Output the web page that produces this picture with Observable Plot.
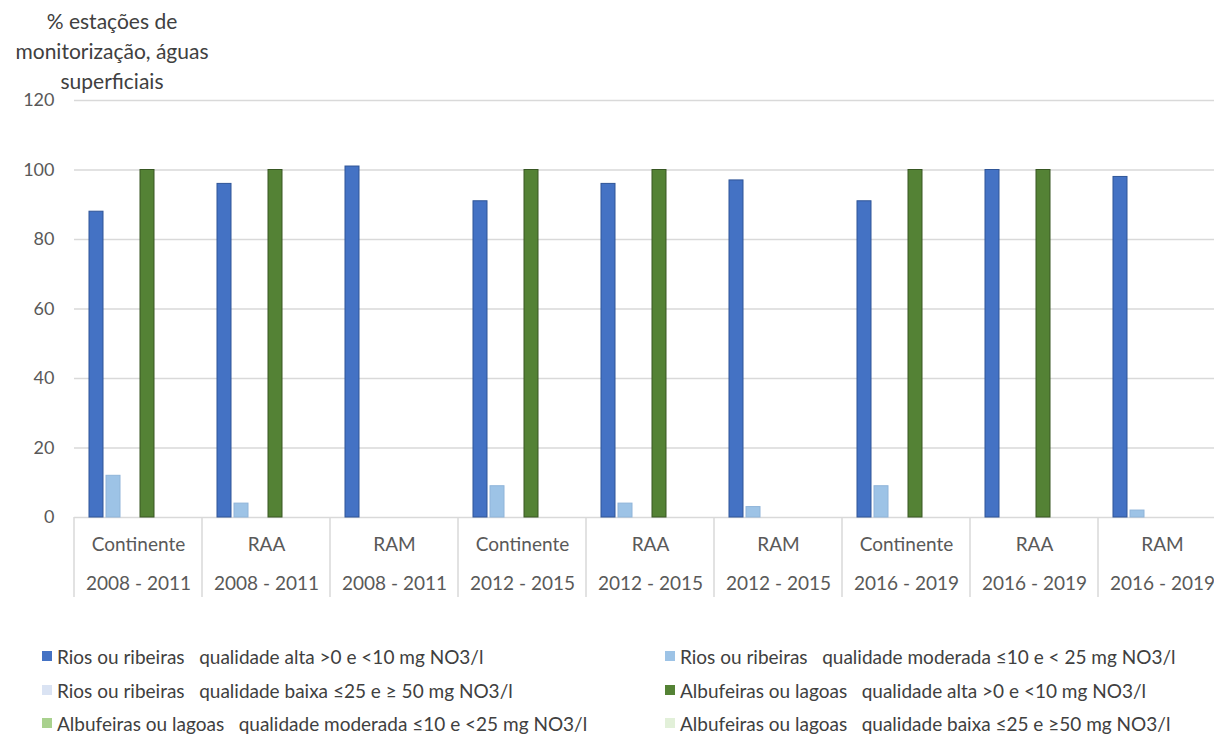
<!DOCTYPE html>
<html>
<head>
<meta charset="utf-8">
<script src="https://cdn.jsdelivr.net/npm/d3@7"></script>
<script src="https://cdn.jsdelivr.net/npm/@observablehq/plot@0.6"></script>
<style>
  html, body { margin: 0; padding: 0; background: #fff; }
  body { width: 1214px; height: 734px; overflow: hidden; font-family: Lato, "Open Sans", sans-serif; }
  #title { width: 224px; height: 80px; padding-top: 6px; box-sizing: border-box; text-align: center; font-size: 21px; line-height: 30px; color: #404040; }
  #chart { width: 1214px; height: 520px; overflow: hidden; }
  #chart svg { max-width: none !important; display: block; }
  #legend { position: relative; height: 134px; font-size: 19px; color: #404040; }
  .item { position: absolute; white-space: pre; display: flex; align-items: center; height: 24px; }
  .sw { width: 10px; height: 10px; margin-right: 5px; flex: none; }
</style>
</head>
<body>
<div id="title">% estações de<br>monitorização, águas<br>superficiais</div>
<div id="chart"></div>
<div id="legend"></div>
<script>
const regions = ["Continente", "RAA", "RAM", "Continente", "RAA", "RAM", "Continente", "RAA", "RAM"];
const periods = ["2008 - 2011", "2008 - 2011", "2008 - 2011", "2012 - 2015", "2012 - 2015", "2012 - 2015", "2016 - 2019", "2016 - 2019", "2016 - 2019"];
const seriesNames = [
  "Rios ou ribeiras   qualidade alta >0 e <10 mg NO3/l",
  "Rios ou ribeiras   qualidade moderada ≤10 e < 25 mg NO3/l",
  "Rios ou ribeiras   qualidade baixa ≤25 e ≥ 50 mg NO3/l",
  "Albufeiras ou lagoas   qualidade alta >0 e <10 mg NO3/l",
  "Albufeiras ou lagoas   qualidade moderada ≤10 e <25 mg NO3/l",
  "Albufeiras ou lagoas   qualidade baixa ≤25 e ≥50 mg NO3/l"
];
const riosAlta      = [88, 96, 101, 91, 96, 97, 91, 100, 98];
const riosModerada  = [12, 4, 0, 9, 4, 3, 9, 0, 2];
const riosBaixa     = [0, 0, 0, 0, 0, 0, 0, 0, 0];
const albAlta       = [100, 100, 0, 100, 100, 0, 100, 100, 0];
const albModerada   = [0, 0, 0, 0, 0, 0, 0, 0, 0];
const albBaixa      = [0, 0, 0, 0, 0, 0, 0, 0, 0];
const yTicks = [0, 20, 40, 60, 80, 100, 120];

const colors = ["#4472C4", "#9DC3E6", "#DAE3F3", "#548235", "#A9D18E", "#E2F0D9"];
const strokes = ["#2F5597", "#8FB4D9", "#C9D6EC", "#385723", "#94BE78", "#D0E6C4"];

const allSeries = [riosAlta, riosModerada, riosBaixa, albAlta, albModerada, albBaixa];
const groupKeys = regions.map((r, i) => r + "|" + periods[i]);
const groups = groupKeys.map((k, i) => ({key: k, region: regions[i], period: periods[i]}));
const rows = [];
allSeries.forEach((vals, s) => vals.forEach((v, i) => rows.push({key: groupKeys[i], series: seriesNames[s], value: v})));

const W = 1228;
const chart = Plot.plot({
  width: W,
  height: 520,
  marginLeft: 72,
  marginRight: 0,
  marginTop: 20,
  marginBottom: 83,
  style: {fontFamily: "Lato, 'Open Sans', sans-serif", fontSize: "18px", color: "#595959", background: "#fff", maxWidth: "none"},
  fx: {domain: groupKeys, paddingInner: 0, paddingOuter: 0, axis: null, label: null},
  x: {domain: seriesNames, paddingInner: 0.2, paddingOuter: 0.834, align: 0.5, axis: null},
  y: {domain: [0, 120], axis: null},
  color: {domain: seriesNames, range: colors},
  marks: [
    Plot.ruleY(yTicks, {y: d => d, stroke: "#D9D9D9", strokeWidth: 1.5}),
    Plot.frame({facet: "super", stroke: "none", render: (index, scales, values, dims) => {
      const g = d3.create("svg:g");
      const y0 = dims.height - dims.marginBottom;
      const xs = groupKeys.map(k => scales.fx(k));
      xs.push(dims.width - dims.marginRight);
      for (const x of xs) {
        g.append("line").attr("x1", x).attr("x2", x).attr("y1", y0).attr("y2", y0 + 80)
          .attr("stroke", "#D9D9D9").attr("stroke-width", 1.5);
      }
      return g.node();
    }}),
    Plot.barY(rows.filter(d => d.value > 0), {
      fx: "key", x: "series", y: "value", fill: "series",
      stroke: d => strokes[seriesNames.indexOf(d.series)], strokeWidth: 1
    }),
    Plot.text(groups, {fx: "key", text: "region", frameAnchor: "bottom", dy: 27, lineAnchor: "middle", fill: "#595959", fontSize: 19}),
    Plot.text(groups, {fx: "key", text: "period", frameAnchor: "bottom", dy: 66, lineAnchor: "middle", fill: "#595959", fontSize: 19}),
    Plot.axisY({ticks: yTicks, tickSize: 0, tickPadding: 20, fontSize: 18, fill: "#595959", label: null})
  ]
});
document.getElementById("chart").appendChild(chart);

const legend = document.getElementById("legend");
const pos = [
  [42, 56], [665, 56],
  [42, 90], [665, 90],
  [42, 123], [665, 123]
];
seriesNames.forEach((name, i) => {
  const item = document.createElement("div");
  item.className = "item";
  item.style.left = pos[i][0] + "px";
  item.style.top = (pos[i][1] - 12) + "px";
  const sw = document.createElement("span");
  sw.className = "sw";
  sw.style.background = colors[i];
  item.appendChild(sw);
  item.appendChild(document.createTextNode(name));
  legend.appendChild(item);
});
</script>
</body>
</html>
